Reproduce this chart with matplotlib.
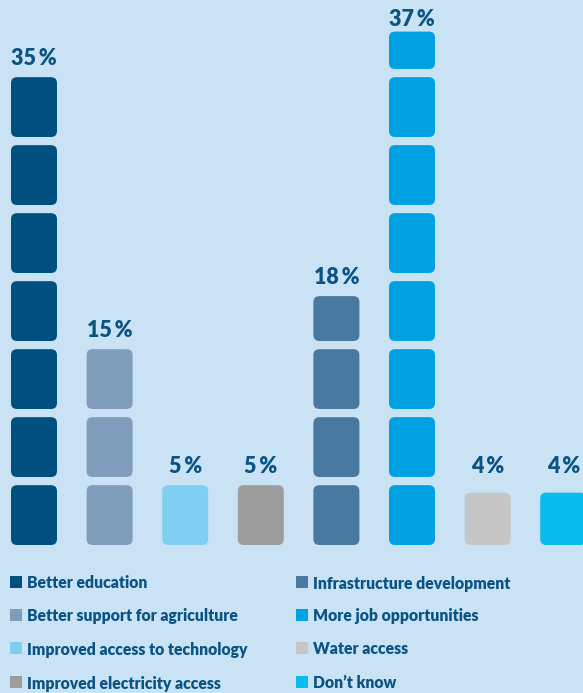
import matplotlib
matplotlib.use("Agg")
import matplotlib.pyplot as plt
from matplotlib.patches import FancyBboxPatch, Rectangle

categories = ["Better education", "Better support for agriculture",
              "Improved access to technology", "Improved electricity access",
              "Infrastructure development", "More job opportunities",
              "Water access", "Don\u2019t know"]
values = [35, 15, 5, 5, 18, 37, 4, 4]
colors = ["#00507f", "#809dbc", "#80cff3", "#9d9d9d",
          "#4a79a0", "#00a1e3", "#c6c6c6", "#0abbee"]

BG = "#c9e3f4"
TXT = "#0b5383"
FONT = ["Lato", "DejaVu Sans"]

W, H = 583, 693
fig = plt.figure(figsize=(W / 100, H / 100), dpi=100, facecolor=BG)

PX_X = 75.6   # px per category
PX_Y = 13.6   # px per percent
base_px = 545
ax = fig.add_axes([0, (H - base_px) / H, 1, base_px / H])
ax.set_facecolor(BG)
ax.set_xlim(-34 / PX_X, (W - 34) / PX_X)
ymax = base_px / PX_Y
ax.set_ylim(0, ymax)
ax.axis("off")

bw = 46 / PX_X
rx = 6 / PX_X
aspect = (6 / PX_Y) / rx
unit = 5
full_h = 1.65 + 0.55 * unit

for i, (v, c) in enumerate(zip(values, colors)):
    k = 0
    top = 0
    rem = v
    while rem > 0:
        r = min(unit, rem)
        h = 1.65 + 0.55 * r
        y0 = k * unit
        p = FancyBboxPatch((i - bw / 2, y0), bw, h,
                           boxstyle=f"round,pad=0,rounding_size={rx}",
                           mutation_aspect=aspect, fc=c, ec="none")
        ax.add_patch(p)
        top = y0 + h
        rem -= r
        k += 1
    ly = min(max(top, full_h) + 12.5 / PX_Y, ymax - 26 / PX_Y)
    ax.text(i, ly, f"{v}\u2009%", ha="center", va="baseline",
            fontsize=15.5, fontweight="heavy", color=TXT, family=FONT)

# legend
rows = [582, 615, 648, 682]
cols = [(10, 27), (296, 313)]
for j, (lab, c) in enumerate(zip(categories, colors)):
    col = j // 4
    row = j % 4
    sx, tx = cols[col]
    yc = rows[row]
    fig.patches.append(Rectangle((sx / W, (H - yc - 6) / H), 12 / W, 12 / H,
                                 transform=fig.transFigure, fc=c, ec="none"))
    fig.text(tx / W, (H - yc) / H, lab, ha="left", va="center_baseline",
             fontsize=11.3, fontweight="heavy", color=TXT, family=FONT)

fig.savefig("out.png", dpi=100, facecolor=BG)
